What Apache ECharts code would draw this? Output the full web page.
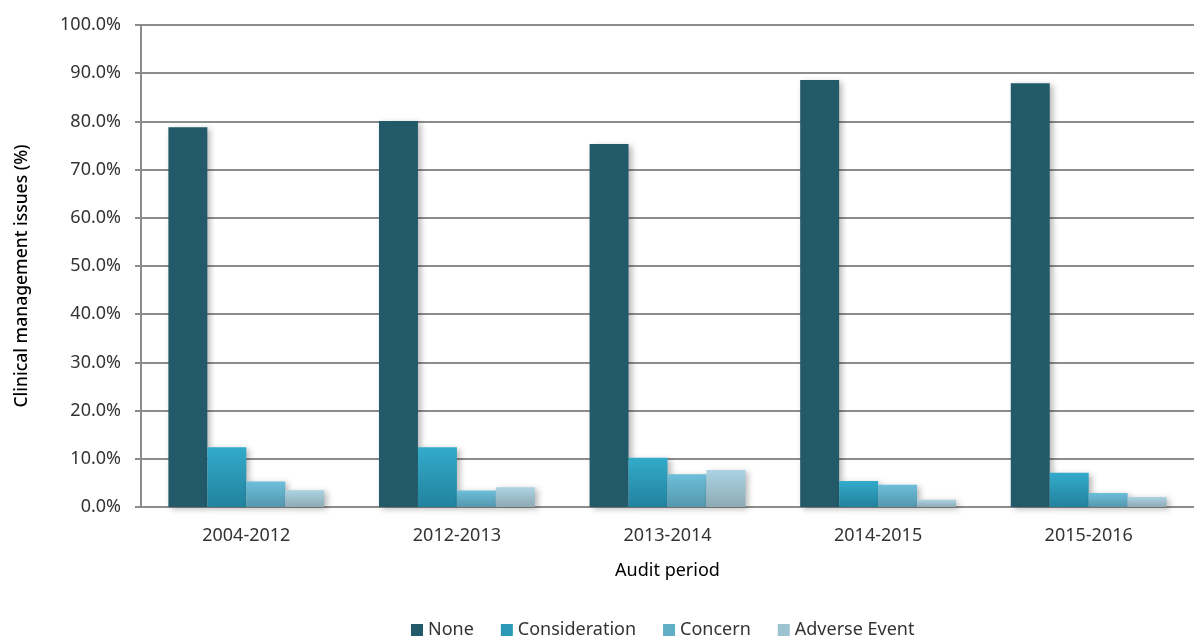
<!DOCTYPE html>
<html>
<head>
<meta charset="utf-8">
<script src="https://cdn.jsdelivr.net/npm/echarts@6/dist/echarts.min.js"></script>
<style>
    html, body { margin: 0; padding: 0; background: #fff; }
    #chart { width: 1194px; height: 637px; }
</style>
</head>
<body>
<div id="chart"></div>
<script>
const periods = ['2004-2012', '2012-2013', '2013-2014', '2014-2015', '2015-2016']
const noneValues = [78.8, 80.1, 75.3, 88.6, 87.9]
const considerationValues = [12.4, 12.4, 10.2, 5.4, 7.1]
const concernValues = [5.3, 3.4, 6.8, 4.6, 2.9]
const adverseValues = [3.5, 4.1, 7.7, 1.5, 2.1]
const seriesNames = ['None', 'Consideration', 'Concern', 'Adverse Event']

const font = "'Noto Sans', 'Open Sans', sans-serif"

const gradient = (top, bottom) =>
    new echarts.graphic.LinearGradient(0, 0, 0, 1, [
        { offset: 0, color: top },
        { offset: 1, color: bottom },
    ])

const barColors = [
    '#225a69',
    gradient('#33abcb', '#22829d'),
    gradient('#6cbfdb', '#5597ad'),
    gradient('#abd3e3', '#8eaab4'),
]
const legendColors = ['#225a69', '#2a98b6', '#60adc6', '#9dc2d0']

const makeSeries = (name, data, i) => ({
    name: name,
    type: 'bar',
    barGap: 0,
    barCategoryGap: '26%',
    itemStyle: {
        color: barColors[i],
        shadowBlur: 6,
        shadowOffsetX: 3,
        shadowOffsetY: 2,
        shadowColor: 'rgba(0,0,0,0.28)',
    },
    data: data,
})

const chart = echarts.init(document.getElementById('chart'))
chart.setOption({
    animation: false,
    textStyle: { fontFamily: font },
    legend: {
        bottom: -7,
        left: 406,
        itemWidth: 12,
        itemHeight: 12,
        itemGap: 27,
        icon: 'rect',
        textStyle: { fontSize: 18, color: '#333', fontFamily: font },
        data: seriesNames.map((n, i) => ({ name: n, itemStyle: { color: legendColors[i] } })),
    },
    grid: { left: 141, right: 0, top: 25, bottom: 130 },
    xAxis: {
        type: 'category',
        data: periods,
        name: 'Audit period',
        nameLocation: 'middle',
        nameGap: 55,
        nameTextStyle: { fontSize: 18, color: '#000', fontFamily: font },
        axisLine: { lineStyle: { color: '#8c8c8c', width: 2 } },
        axisTick: { show: false },
        axisLabel: { fontSize: 18, color: '#333', margin: 20, fontFamily: font },
    },
    yAxis: {
        type: 'value',
        min: 0,
        max: 100,
        interval: 10,
        name: 'Clinical management issues (%)',
        nameLocation: 'middle',
        nameGap: 110,
        nameTextStyle: { fontSize: 17.5, color: '#000', fontWeight: 500, fontFamily: font, padding: [0, 0, 0, -20] },
        axisLine: { show: true, lineStyle: { color: '#8c8c8c', width: 2 } },
        axisTick: { show: true, length: 6, lineStyle: { color: '#8c8c8c', width: 2 } },
        axisLabel: {
            fontSize: 18,
            color: '#333',
            margin: 20,
            fontFamily: font,
            formatter: v => v.toFixed(1) + '%',
        },
        splitLine: { lineStyle: { color: '#8c8c8c', width: 2 } },
    },
    series: [
        makeSeries(seriesNames[0], noneValues, 0),
        makeSeries(seriesNames[1], considerationValues, 1),
        makeSeries(seriesNames[2], concernValues, 2),
        makeSeries(seriesNames[3], adverseValues, 3),
    ],
})
</script>
</body>
</html>
